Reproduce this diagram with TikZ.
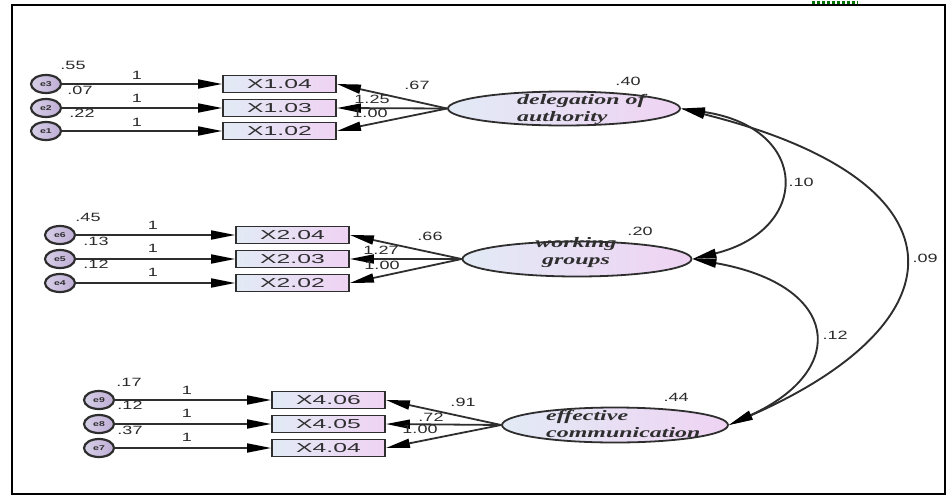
\documentclass[tikz,border=0pt]{standalone}
\usepackage{fontspec}
\setmainfont{Liberation Sans}
\newfontfamily\boxfont{Liberation Sans}[FakeStretch=1.9]
\newfontfamily\numfont{Liberation Sans}[FakeStretch=1.5]
\newfontfamily\latfont{Liberation Serif}[FakeStretch=1.65]
\usetikzlibrary{shapes.geometric,arrows.meta}
\definecolor{edgec}{HTML}{2E2E2E}
\definecolor{lblue}{HTML}{E2EAF5}
\definecolor{lpink}{HTML}{EFD3F3}
\definecolor{errl}{HTML}{D6CEE6}
\definecolor{errr}{HTML}{BFAED6}
\definecolor{numc}{HTML}{2A2A2A}
\tikzset{
  amostip/.tip={Triangle[length=24pt,width=9pt,black]},
  obs/.style={draw=edgec, line width=1.8pt, left color=lblue, right color=lpink,
    minimum width=113pt, minimum height=17pt, inner sep=0pt,
    font=\boxfont\fontsize{13}{13}\selectfont, text=edgec},
  latent/.style={ellipse, draw=edgec, line width=1.8pt, left color=lblue, right color=lpink, inner sep=0pt},
  lattext/.style={inner sep=0pt, text=edgec, font=\latfont\bfseries\itshape\fontsize{14.5}{17}\selectfont},
  errnode/.style={ellipse, draw=edgec, line width=2.2pt, left color=errl, right color=errr,
    minimum width=30pt, minimum height=18pt, inner sep=0pt, font=\numfont\bfseries\fontsize{7}{7}\selectfont, text=edgec},
  arr/.style={draw=edgec, line width=1.8pt, -amostip},
  cov/.style={draw=edgec, line width=1.9pt, amostip-amostip},
  num/.style={inner sep=0pt, text=numc, font=\numfont\fontsize{12}{12}\selectfont}
}
\begin{document}
\begin{tikzpicture}[x=1pt,y=-1pt]
\useasboundingbox (0,0) rectangle (952,498);
\draw[line width=1.2pt] (12,5) rectangle (945,494);
\draw[green!45!black, dotted, line width=3pt] (812,2) -- (858,2);

% latent variables
\node[latent, minimum width=232pt, minimum height=34pt] (del) at (564,108.5) {};
\node[latent, minimum width=229pt, minimum height=35pt] (wg) at (577,259) {};
\node[latent, minimum width=226pt, minimum height=35pt] (ec) at (615,425) {};
\node[lattext, anchor=west, align=left] (delT) at (517,109) {delegation of\\authority};
\node[lattext, align=center] (wgT) at (576,253) {working\\groups};
\node[lattext, anchor=west, align=left] (ecT) at (546,424) {effective\\communication};

% observed variables
\node[obs] (x104) at (279.5,84) {X1.04};
\node[obs] (x103) at (279.5,108) {X1.03};
\node[obs] (x102) at (279.5,131) {X1.02};
\node[obs] (x204) at (292.5,235) {X2.04};
\node[obs] (x203) at (292.5,259) {X2.03};
\node[obs] (x202) at (292.5,283) {X2.02};
\node[obs] (x406) at (328.5,400) {X4.06};
\node[obs] (x405) at (328.5,424) {X4.05};
\node[obs] (x404) at (328.5,448) {X4.04};

% errors
\node[errnode] (e3) at (46,84) {e3};
\node[errnode] (e2) at (46,108) {e2};
\node[errnode] (e1) at (46,131) {e1};
\node[errnode] (e6) at (60,235) {e6};
\node[errnode] (e5) at (60,259) {e5};
\node[errnode] (e4) at (60,283) {e4};
\node[errnode] (e9) at (99,400) {e9};
\node[errnode] (e8) at (99,424) {e8};
\node[errnode] (e7) at (99,448) {e7};

% error paths
\draw[arr] (e3) -- (x104);
\draw[arr] (e2) -- (x103);
\draw[arr] (e1) -- (x102);
\draw[arr] (e6) -- (x204);
\draw[arr] (e5) -- (x203);
\draw[arr] (e4) -- (x202);
\draw[arr] (e9) -- (x406);
\draw[arr] (e8) -- (x405);
\draw[arr] (e7) -- (x404);

% loadings
\draw[arr] (del.west) -- (x104.east);
\draw[arr] (del.west) -- (x103.east);
\draw[arr] (del.west) -- (x102.east);
\draw[arr] (wg.west) -- (x204.east);
\draw[arr] (wg.west) -- (x203.east);
\draw[arr] (wg.west) -- (x202.east);
\draw[arr] (ec.west) -- (x406.east);
\draw[arr] (ec.west) -- (x405.east);
\draw[arr] (ec.west) -- (x404.east);

% covariances
\draw[cov] (del.east) .. controls (811,128) and (811,230) .. (wg.east);
\draw[cov] (wg.east) .. controls (840,285) and (850,370) .. (ec.east);
\draw[cov] (del.east) .. controls (968,180) and (968,320) .. (ec.east);

% labels group 1
\node[num] (v55) at (73,65) {.55};
\node[num] (v07) at (80,90) {.07};
\node[num] (v22) at (82,113) {.22};
\node[num] (w1a) at (137,75) {1};
\node[num] (w1b) at (137,98) {1};
\node[num] (w1c) at (137,122) {1};
\node[num] (l67) at (417,85) {.67};
\node[num] (l125) at (372,99) {1.25};
\node[num] (l100a) at (370,113) {1.00};
\node[num] (v40) at (628,81) {.40};
% labels group 2
\node[num] (v45) at (88,217) {.45};
\node[num] (v13) at (96,241) {.13};
\node[num] (v12a) at (96,264) {.12};
\node[num] (w2a) at (153,225) {1};
\node[num] (w2b) at (153,248) {1};
\node[num] (w2c) at (153,272) {1};
\node[num] (l66) at (430,236) {.66};
\node[num] (l127) at (381,250) {1.27};
\node[num] (l100b) at (382,265) {1.00};
\node[num] (v20) at (640,231) {.20};
% labels group 3
\node[num] (v17) at (129,382) {.17};
\node[num] (v12b) at (130,405) {.12};
\node[num] (v37) at (130,430) {.37};
\node[num] (w3a) at (187,390) {1};
\node[num] (w3b) at (187,413) {1};
\node[num] (w3c) at (187,437) {1};
\node[num] (l91) at (463,402) {.91};
\node[num] (l72) at (431,417) {.72};
\node[num] (l100c) at (420,429) {1.00};
\node[num] (v44) at (676,397) {.44};
% covariance labels
\node[num] (c10) at (801,182) {.10};
\node[num] (c12) at (835,335) {.12};
\node[num] (c09) at (925,258) {.09};
\end{tikzpicture}
\end{document}
